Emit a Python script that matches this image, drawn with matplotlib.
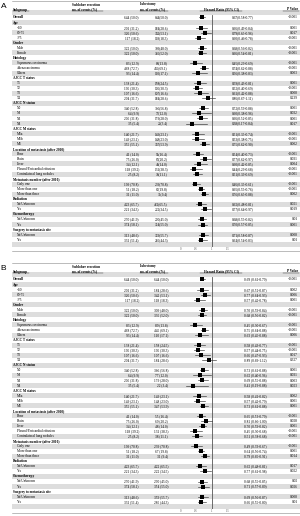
import matplotlib.pyplot as plt

plt.rcParams['font.family'] = ['Liberation Serif', 'DejaVu Serif']

# subgroup structure
groups = ["Age", "Gender", "Histology", "AJCC T status", "AJCC N status", "AJCC M status",
          "Location of metastasis (after 2010)", "Metastasis number (after 2010)",
          "Radiation", "Chemotherapy", "Surgery to metastasis site"]
group_items = [["<60", "60-75", ">75"],
               ["Male", "Female"],
               ["Squamous carcinoma", "Adenocarcinoma", "Others"],
               ["T1", "T2", "T3", "T4"],
               ["N0", "N1", "N2", "N3"],
               ["M1a", "M1b", "M1"],
               ["Bone", "Brain", "Liver", "Pleural/Pericardial effusion", "Contralateral lung nodules"],
               ["Only one", "More than one", "More than three"],
               ["No/Unknown", "Yes"],
               ["No/Unknown", "Yes"],
               ["No/Unknown", "Yes"]]

# values in row order: Overall first, then the items of each group
sub_n = [644, 201, 326, 117, 322, 322, 83, 468, 93, 138, 195, 107, 204, 340, 64, 205, 35,
         140, 149, 355, 41, 75, 34, 118, 25, 199, 51, 31, 423, 221, 270, 374, 313, 331]
sub_pct = [50.0, 31.2, 50.6, 18.2, 50.0, 50.0, 12.9, 72.7, 14.4, 21.4, 30.3, 16.6, 31.7, 52.8, 9.9, 31.8, 5.4,
           21.7, 23.1, 55.1, 14.0, 26.0, 12.1, 39.2, 8.2, 70.8, 18.2, 11.0, 65.7, 34.3, 41.9, 58.1, 48.6, 51.4]
lob_n = [644, 184, 342, 118, 309, 335, 89, 445, 110, 158, 195, 107, 184, 366, 77, 179, 22,
         149, 148, 347, 55, 69, 48, 131, 38, 239, 67, 31, 422, 222, 290, 354, 359, 285]
lob_pct = [50.0, 28.6, 53.1, 18.3, 48.0, 52.0, 13.8, 69.1, 17.1, 24.5, 30.3, 16.6, 28.6, 56.8, 12.0, 28.0, 3.4,
           23.1, 23.0, 53.9, 16.4, 20.2, 14.0, 38.3, 11.1, 70.8, 19.8, 9.4, 65.5, 34.5, 45.0, 55.0, 55.7, 44.3]

hr_a = [0.67, 0.66, 0.79, 0.60, 0.68, 0.66, 0.45, 0.74, 0.56, 0.59, 0.52, 0.61, 0.86, 0.72, 0.60, 0.66, 0.38,
        0.51, 0.53, 0.75, 0.54, 0.77, 0.60, 0.44, 0.51, 0.46, 0.65, 0.76, 0.62, 0.77, 0.68, 0.70, 0.71, 0.64]
lo_a = [0.58, 0.49, 0.65, 0.46, 0.56, 0.54, 0.29, 0.62, 0.38, 0.43, 0.40, 0.42, 0.67, 0.59, 0.38, 0.52, 0.17,
        0.35, 0.38, 0.62, 0.40, 0.62, 0.42, 0.29, 0.39, 0.35, 0.55, 0.65, 0.48, 0.64, 0.55, 0.57, 0.58, 0.54]
hi_a = [0.77, 0.84, 0.96, 0.78, 0.82, 0.81, 0.69, 0.88, 0.83, 0.81, 0.69, 0.88, 1.11, 0.88, 0.96, 0.85, 0.84,
        0.74, 0.75, 0.90, 0.73, 0.97, 0.85, 0.68, 0.69, 0.61, 0.76, 0.88, 0.81, 0.97, 0.82, 0.85, 0.87, 0.83]
p_a = ["<0.001", "0.001", "0.017", "<0.001", "<0.001", "<0.001", "<0.001", "<0.001", "0.003",
       "0.001", "<0.001", "0.008", "0.239", "0.001", "0.032", "0.001", "0.017",
       "<0.001", "<0.001", "0.002", "<0.001", "0.031", "0.004", "<0.001", "<0.001",
       "<0.001", "<0.001", "0.002", "0.021", "0.019", "0.01", "0.001", "0.008", "0.01"]

hr_b = [0.69, 0.67, 0.77, 0.57, 0.70, 0.68, 0.45, 0.75, 0.63, 0.58, 0.57, 0.66, 0.89, 0.73, 0.62, 0.69, 0.41,
        0.58, 0.57, 0.73, 0.65, 0.81, 0.70, 0.45, 0.51, 0.49, 0.64, 0.79, 0.62, 0.77, 0.68, 0.71, 0.69, 0.66]
lo_b = [0.61, 0.52, 0.64, 0.42, 0.59, 0.56, 0.30, 0.64, 0.45, 0.43, 0.44, 0.47, 0.69, 0.61, 0.40, 0.55, 0.19,
        0.41, 0.42, 0.61, 0.53, 0.66, 0.59, 0.30, 0.38, 0.33, 0.56, 0.65, 0.48, 0.61, 0.55, 0.57, 0.56, 0.55]
hi_b = [0.79, 0.87, 0.93, 0.78, 0.84, 0.82, 0.67, 0.88, 0.88, 0.77, 0.75, 0.93, 1.12, 0.88, 0.96, 0.88, 0.88,
        0.82, 0.79, 0.88, 0.79, 1.00, 0.82, 0.68, 0.68, 0.67, 0.74, 0.91, 0.81, 0.98, 0.85, 0.89, 0.87, 0.80]
p_b = ["<0.001", "0.002", "0.006", "0.001", "<0.001", "<0.001", "<0.001", "<0.001", "0.006",
       "<0.001", "<0.001", "0.017", "0.327", "0.001", "0.031", "0.003", "0.023",
       "0.002", "0.001", "0.001", "<0.001", "0.028", "0.001", "<0.001", "<0.001",
       "<0.001", "0.001", "0.014", "0.017", "0.022", "0.02", "0.026", "0.008", "0.01"]

x_ticks = [0, 0.5, 1, 1.5]

W, H = 300, 516
FS = 2.5
ROW = 5.05
GREY = '#dddddd'


def px_rect(x0, y0, x1, y1):
    return [x0 / W, 1 - y1 / H, (x1 - x0) / W, (y1 - y0) / H]


fig = plt.figure(figsize=(W / 100, H / 100), dpi=100)
tab = fig.add_axes([0, 0, 1, 1])
tab.set_xlim(0, W)
tab.set_ylim(H, 0)
tab.axis('off')


def draw_panel(off, letter, hr, lo, hi, pv, hr_space, hr_x):
    # rows: (label, kind, data index)
    rows = [("Overall", "overall", 0)]
    idx = 1
    for g, items in zip(groups, group_items):
        rows.append((g, "group", None))
        for it in items:
            rows.append((it, "item", idx))
            idx += 1

    y0 = off + 17.5
    # stripes, blank row above Overall and below the last row
    for k in range(-1, len(rows) + 1):
        if k % 2 != 0:
            tab.add_patch(plt.Rectangle((12, y0 + k * ROW - ROW / 2), W - 12, ROW,
                                        color=GREY, lw=0, zorder=0))

    tab.text(0.5, off + 7, letter, fontsize=6, family=['Liberation Sans', 'DejaVu Sans'],
             va='center', ha='left')
    tab.plot([12, W], [off + 1, off + 1], color='#888888', lw=0.4)
    bottom = y0 + (len(rows) + 1) * ROW + 1.5
    tab.plot([12, W], [bottom, bottom], color='#888888', lw=0.4)

    hy = off + 9.5
    tab.text(13, hy, "Subgroup", fontsize=FS, fontweight='bold', va='center')
    tab.text(72, off + 4.5, "Sublobar resection", fontsize=FS, fontweight='bold', va='center')
    tab.text(72, hy, "no. of events (%)", fontsize=FS, fontweight='bold', va='center')
    tab.text(140, off + 4.5, "Lobectomy", fontsize=FS, fontweight='bold', va='center')
    tab.text(140, hy, "no. of events (%)", fontsize=FS, fontweight='bold', va='center')
    tab.text(221, hy, "Hazard Ratio (95% CI)", fontsize=FS, fontweight='bold', va='center', ha='center')
    tab.text(298, hy, "P Value", fontsize=FS, fontweight='bold', va='center', ha='right')
    for a, b in [(13, 29), (72, 103), (140, 168), (200, 242), (283, 299)]:
        tab.plot([a, b], [off + 11.2, off + 11.2], color='#222222', lw=0.3)

    sep = " " if hr_space else ""
    for k, (lab, kind, i) in enumerate(rows):
        y = y0 + k * ROW
        if kind == "item":
            tab.text(17, y, lab, fontsize=FS, va='center')
        else:
            tab.text(13, y, lab, fontsize=FS, fontweight='bold', va='center')
        if i is None:
            continue
        tab.text(139, y, f"{sub_n[i]} ({sub_pct[i]:.1f})", fontsize=FS, va='center', ha='right')
        tab.text(168, y, f"{lob_n[i]}{sep}({lob_pct[i]:.1f})", fontsize=FS, va='center', ha='right')
        tab.text(hr_x, y, f"{hr[i]:.2f}{sep}({lo[i]:.2f}-{hi[i]:.2f})", fontsize=FS, va='center')
        tab.text(298, y, pv[i], fontsize=FS, va='center', ha='right')

    # forest plot on its own axes, y in the same pixel rows
    fx0, fx1 = 178, 232
    fy0, fy1 = off + 15, off + 246.5
    fa = fig.add_axes(px_rect(fx0, fy0, fx1, fy1))
    fa.patch.set_alpha(0)
    px_per = 31.5
    fa.set_xlim((fx0 - 180.5) / px_per, (fx1 - 180.5) / px_per)
    fa.set_ylim(fy1, fy0)
    for s in fa.spines.values():
        s.set_visible(False)
    fa.set_yticks([])
    fa.set_xticks(x_ticks)
    fa.set_xticklabels([f"{t:g}" for t in x_ticks])
    fa.tick_params(axis='x', length=0, labelsize=2.2, pad=0.6, labelcolor='#555555')
    fa.axvline(1, color='#555555', lw=0.6)
    for k, (lab, kind, i) in enumerate(rows):
        if i is None:
            continue
        y = y0 + k * ROW
        fa.plot([lo[i], hi[i]], [y, y], color='#333333', lw=0.45)
        fa.plot(hr[i], y, marker='s', ms=2.4, color='black', mew=0)


draw_panel(0, "A", hr_a, lo_a, hi_a, p_a, False, 232)
draw_panel(262, "B", hr_b, lo_b, hi_b, p_b, True, 244)

fig.savefig("out.png", dpi=100)
